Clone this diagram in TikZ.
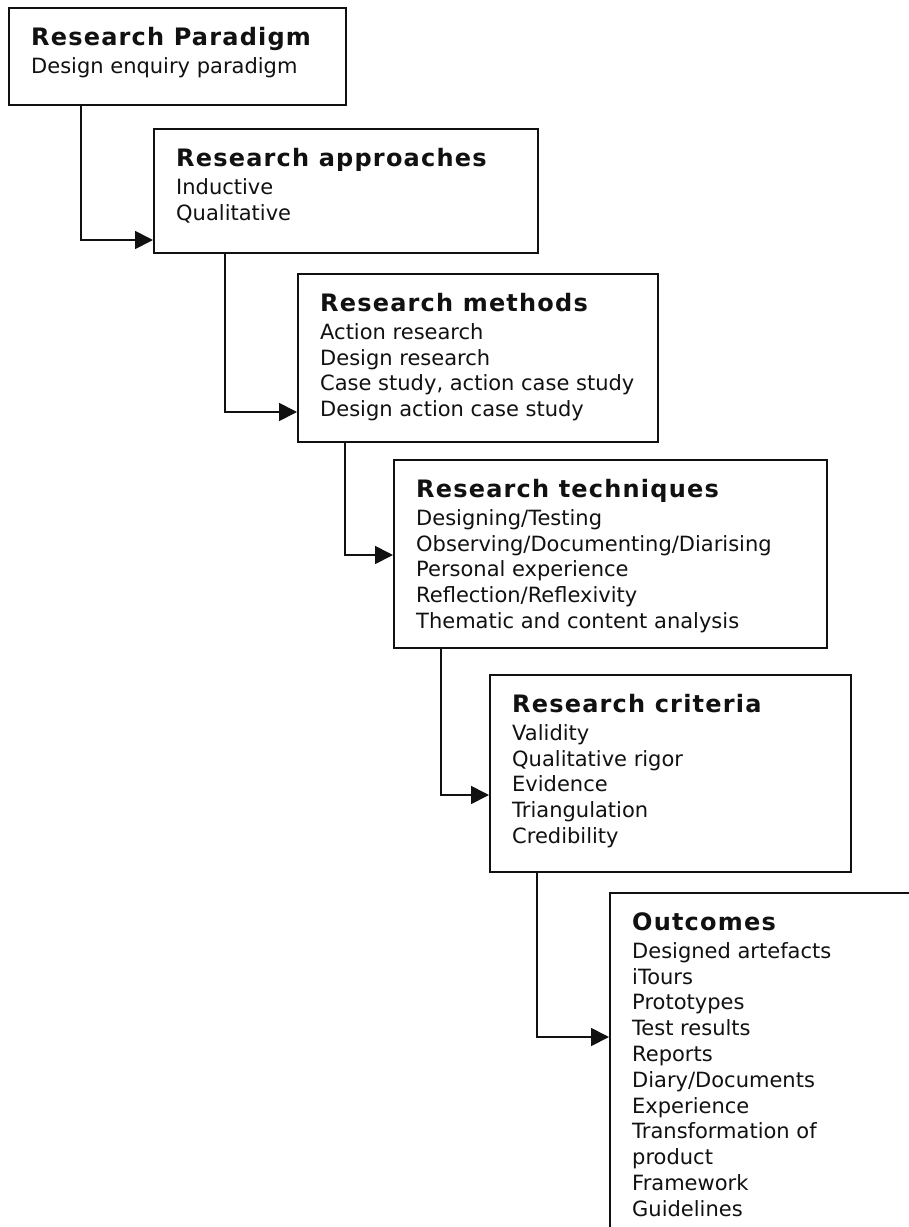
\documentclass[tikz,border=0pt]{standalone}
\usepackage{fontspec}
\setmainfont{DejaVu Sans}
\newfontfamily\headfamily[LetterSpace=5]{DejaVu Sans}
\usetikzlibrary{arrows.meta}
\definecolor{ink}{HTML}{111111}
% heading line of a stage; the invisible rule fixes the first baseline 30pt below the text node's top
\newcommand\heading[1]{{\headfamily\bfseries\fontsize{24}{25.8}\selectfont\rule{0pt}{30pt}#1}}
\begin{document}
\begin{tikzpicture}[x=1pt,y=-1pt,
  stagebox/.style={draw=ink,line width=1.8pt,fill=white,inner sep=0pt,anchor=north west},
  stagetext/.style={anchor=north west,inner sep=0pt,align=left,text=ink,
    font=\fontsize{21}{25.8}\selectfont},
  flow/.style={draw=ink,line width=1.8pt,-{Triangle[length=18pt,width=18pt]}}]
\useasboundingbox (0,0) rectangle (909,1227);
\fill[white] (0,0) rectangle (909,1227);
\clip (0,0) rectangle (909,1227);

% stage frames, placed by their top-left corners
\node[stagebox,minimum width=337pt,minimum height=97pt]  (b1) at (8,7) {};
\node[stagebox,minimum width=384pt,minimum height=124pt] (b2) at (153,128) {};
\node[stagebox,minimum width=360pt,minimum height=168pt] (b3) at (297,273) {};
\node[stagebox,minimum width=433pt,minimum height=188pt] (b4) at (393,459) {};
\node[stagebox,minimum width=361pt,minimum height=197pt] (b5) at (489,674) {};
\node[stagebox,minimum width=360pt,minimum height=400pt] (b6) at (609,892) {};

% stage contents
\node[stagetext] (t1) at ([shift={(23pt,-8pt)}]b1.north west)
  {\heading{Research Paradigm}\\[2.2pt]Design enquiry paradigm};
\node[stagetext] (t2) at ([shift={(23pt,-8pt)}]b2.north west)
  {\heading{Research approaches}\\[2.2pt]Inductive\\Qualitative};
\node[stagetext] (t3) at ([shift={(23pt,-8pt)}]b3.north west)
  {\heading{Research methods}\\[2.2pt]Action research\\Design research\\Case study, action case study\\Design action case study};
\node[stagetext] (t4) at ([shift={(23pt,-8pt)}]b4.north west)
  {\heading{Research techniques}\\[2.2pt]Designing/Testing\\Observing/Documenting/Diarising\\Personal experience\\Reflection/Reflexivity\\Thematic and content analysis};
\node[stagetext] (t5) at ([shift={(23pt,-8pt)}]b5.north west)
  {\heading{Research criteria}\\[2.2pt]Validity\\Qualitative rigor\\Evidence\\Triangulation\\Credibility};
\node[stagetext] (t6) at ([shift={(23pt,-8pt)}]b6.north west)
  {\heading{Outcomes}\\[2.2pt]Designed artefacts\\iTours\\Prototypes\\Test results\\Reports\\Diary/Documents\\Experience\\Transformation of\\product\\Framework\\Guidelines};

% step-down connectors
\draw[flow] ([xshift=73pt]b1.south west) |- ([yshift=-112pt]b2.north west);
\draw[flow] ([xshift=72pt]b2.south west) |- ([yshift=-139pt]b3.north west);
\draw[flow] ([xshift=48pt]b3.south west) |- ([yshift=-96pt]b4.north west);
\draw[flow] ([xshift=48pt]b4.south west) |- ([yshift=-121pt]b5.north west);
\draw[flow] ([xshift=48pt]b5.south west) |- ([yshift=-145pt]b6.north west);
\end{tikzpicture}
\end{document}
